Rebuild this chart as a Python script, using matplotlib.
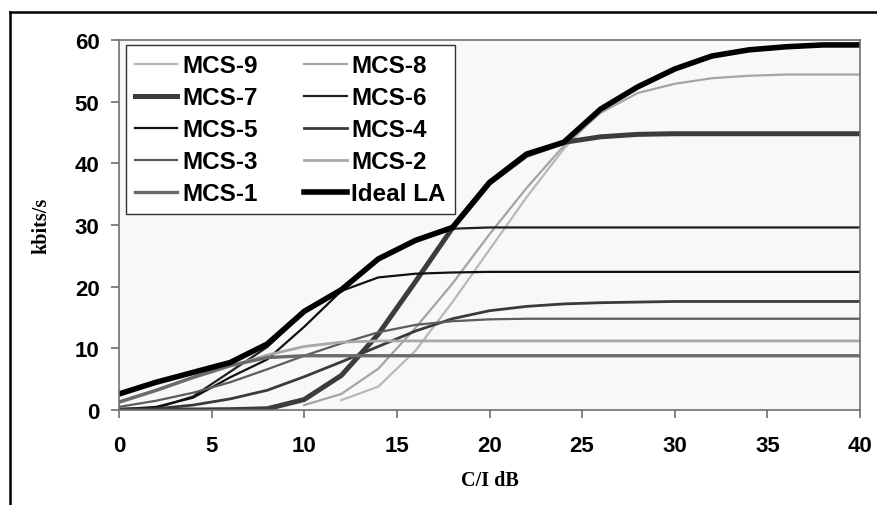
import matplotlib
matplotlib.use("Agg")
import matplotlib.pyplot as plt
import numpy as np
from matplotlib.lines import Line2D

# C/I grid (dB) and throughput curves (kbits/s)
dB = [0, 2, 4, 6, 8, 10, 12, 14, 16, 18, 20, 22, 24, 26, 28, 30, 32, 34, 36, 38, 40]
nan = np.nan

mcs9 = [nan, nan, nan, nan, nan, nan, 1.6, 3.8, 9.6, 17.5, 26.0, 34.5, 42.3, 48.6,
        52.3, 55.2, 57.3, 58.3, 58.8, 59.2, 59.2]
mcs8 = [nan, nan, nan, nan, nan, 0.8, 2.6, 6.7, 13.3, 20.5, 28.5, 36.0, 42.8, 48.2,
        51.4, 52.9, 53.8, 54.2, 54.4, 54.4, 54.4]
mcs7 = [0, 0, 0, 0.05, 0.2, 1.7, 5.6, 12.3, 20.8, 29.5, 36.8, 41.3, 43.4, 44.3,
        44.7, 44.8, 44.8, 44.8, 44.8, 44.8, 44.8]
mcs6 = [0.0, 0.3, 2.2, 6.2, 10.2, 15.8, 19.4, 24.4, 27.4, 29.4, 29.6, 29.6, 29.6,
        29.6, 29.6, 29.6, 29.6, 29.6, 29.6, 29.6, 29.6]
mcs5 = [0.1, 0.5, 2.0, 5.3, 8.2, 13.5, 19.3, 21.5, 22.1, 22.3, 22.4, 22.4, 22.4,
        22.4, 22.4, 22.4, 22.4, 22.4, 22.4, 22.4, 22.4]
mcs4 = [0.1, 0.2, 0.8, 1.8, 3.2, 5.4, 7.8, 10.3, 12.8, 14.8, 16.1, 16.8, 17.2,
        17.4, 17.5, 17.6, 17.6, 17.6, 17.6, 17.6, 17.6]
mcs3 = [0.5, 1.5, 2.8, 4.5, 6.6, 8.8, 10.8, 12.6, 13.8, 14.4, 14.7, 14.8, 14.8,
        14.8, 14.8, 14.8, 14.8, 14.8, 14.8, 14.8, 14.8]
mcs2 = [1.2, 3.1, 5.2, 7.1, 8.9, 10.3, 11.0, 11.2, 11.2, 11.2, 11.2, 11.2, 11.2,
        11.2, 11.2, 11.2, 11.2, 11.2, 11.2, 11.2, 11.2]
mcs1 = [1.3, 3.2, 5.3, 7.2, 8.5, 8.8, 8.8, 8.8, 8.8, 8.8, 8.8, 8.8, 8.8,
        8.8, 8.8, 8.8, 8.8, 8.8, 8.8, 8.8, 8.8]
ideal = [2.6, 4.5, 6.1, 7.7, 10.7, 16.0, 19.5, 24.5, 27.5, 29.6, 36.9, 41.5, 43.4,
         48.8, 52.4, 55.3, 57.4, 58.4, 58.9, 59.2, 59.2]

names = ['MCS-9', 'MCS-8', 'MCS-7', 'MCS-6', 'MCS-5', 'MCS-4', 'MCS-3', 'MCS-2', 'MCS-1', 'Ideal LA']
series = [mcs9, mcs8, mcs7, mcs6, mcs5, mcs4, mcs3, mcs2, mcs1, ideal]
colors = ['#b8b8b8', '#a4a4a4', '#3c3c3c', '#202020', '#101010', '#3a3a3a', '#5c5c5c', '#a8a8a8', '#6a6a6a', '#000000']
widths = [1.6, 1.6, 3.6, 1.6, 1.6, 2.0, 1.6, 2.0, 2.4, 4.0]

fig = plt.figure(figsize=(8.77, 5.06), dpi=100)
ax = fig.add_axes([119/877, 1-411/506, (860-119)/877, (411-41)/506])
ax.set_facecolor('#f8f8f8')

lines = []
for name, ys, c, w in zip(names, series, colors, widths):
    l, = ax.plot(dB, ys, color=c, lw=w, label=name, solid_joinstyle='round')
    lines.append(l)

ax.set_xlim(0, 40)
ax.set_ylim(0, 60)
ax.set_xticks(range(0, 41, 5))
ax.set_yticks(range(0, 61, 10))
for s in ax.spines.values():
    s.set_color('#707070')
    s.set_linewidth(1.2)
ax.tick_params(direction='out', length=6, width=1.2, color='#707070', pad=8)
for lab in ax.get_xticklabels() + ax.get_yticklabels():
    lab.set_fontfamily('Liberation Sans')
    lab.set_fontweight('bold')
    lab.set_fontsize(16)
ax.tick_params(axis='x', pad=12)

ax.set_xlabel('C/I dB', family='Liberation Serif', weight='bold', fontsize=14.5, labelpad=10)
ax.set_ylabel('kbits/s', family='Liberation Serif', weight='bold', fontsize=14.5, labelpad=17)

order = [0, 2, 4, 6, 8, 1, 3, 5, 7, 9]
leg = ax.legend([lines[i] for i in order], [names[i] for i in order], ncol=2,
                loc='upper left', bbox_to_anchor=(0.009, 0.987), borderaxespad=0,
                prop={'family': 'Liberation Sans', 'weight': 'bold', 'size': 17.5},
                handlelength=1.75, handletextpad=0.2, columnspacing=1.9,
                labelspacing=0.37, borderpad=0.38, fancybox=False, framealpha=1)
leg.get_frame().set_edgecolor('#303030')
leg.get_frame().set_linewidth(1.0)

# page frame at the left and top of the picture
fig.add_artist(Line2D([9.5/877, 9.5/877], [0, 1-13/506], color='black', lw=1.8, transform=fig.transFigure))
fig.add_artist(Line2D([9.5/877, 1], [1-13/506, 1-13/506], color='black', lw=1.8, transform=fig.transFigure))

fig.savefig('out.png', dpi=100)
